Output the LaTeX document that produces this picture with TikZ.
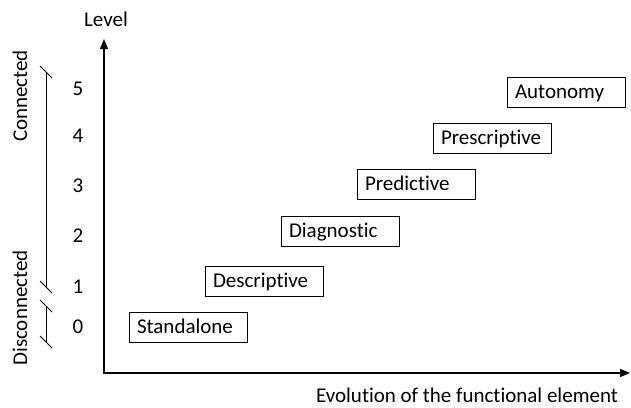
\documentclass[tikz,border=0pt]{standalone}
\usepackage{fontspec}
\setmainfont{Carlito}[Ligatures=NoCommon]
\usepackage{tikz}
\usetikzlibrary{arrows.meta,positioning}

\begin{document}
\begin{tikzpicture}[x=0.5pt,y=-0.5pt,>={Triangle[length=5pt,width=4pt]},
  every node/.style={font=\fontsize{10.5}{12}\selectfont},
  levelbox/.style={draw,line width=0.5pt,text width=51pt,inner xsep=4pt,inner ysep=0pt,
    text height=8.4pt,text depth=1.6pt,minimum height=15pt,align=left},
  brk/.style={line width=0.5pt}]
  \useasboundingbox (0,0) rectangle (631,407);

  % axes
  \coordinate (ytop) at (104,39);
  \coordinate (xend) at (630,373);
  \draw[<->,line width=0.6pt] (ytop) |- (xend);
  \node (ylab) at (106,19) {Level};
  \node (xlab) at (467,395) {Evolution of the functional element};

  % level numbers
  \foreach \n/\y in {5/89,4/136,3/186,2/236,1/287,0/327}
    \node (lvl\n) at (78,\y) {\n};

  % connected / disconnected brackets
  \coordinate (conTop) at (46,72); \coordinate (conBot) at (46,287);
  \coordinate (disTop) at (46,306); \coordinate (disBot) at (46,342);
  \draw[brk] (conTop) -- (conBot); \draw[brk] (disTop) -- (disBot);
  \foreach \c in {conTop,conBot,disTop,disBot}
    \draw[brk] (\c) ++(-6,-6) -- ++(12,12);
  \node[rotate=90] (con) at (20,96) {Connected};
  \node[rotate=90] (dis) at (20,308) {Disconnected};

  % functional levels
  \node[levelbox] (standalone) at (188,327) {Standalone};
  \node[levelbox] (descriptive) at (264,281) {Descriptive};
  \node[levelbox] (diagnostic) at (340,231) {Diagnostic};
  \node[levelbox] (predictive) at (416,184) {Predictive};
  \node[levelbox] (prescriptive) at (492,138) {Prescriptive};
  \node[levelbox] (autonomy) at (566,92) {Autonomy};
\end{tikzpicture}
\end{document}
